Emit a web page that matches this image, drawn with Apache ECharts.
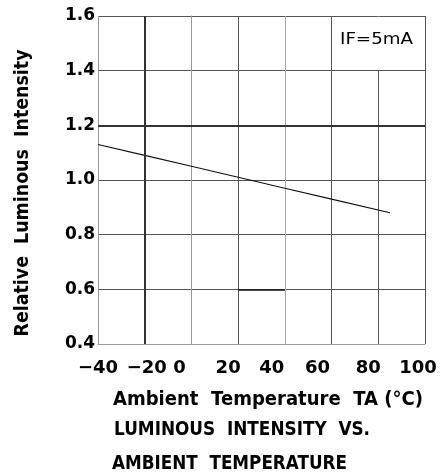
<!DOCTYPE html>
<html>
<head>
<meta charset="utf-8">
<script src="https://cdn.jsdelivr.net/npm/echarts@6/dist/echarts.min.js"></script>
<style>
html,body{margin:0;padding:0;background:#fff;}
#chart{width:440px;height:476px;}
</style>
</head>
<body>
<div id="chart"></div>
<script>
// Data
var temperatures = [-40, -20, 0, 20, 40, 60, 85];
var intensity = [1.13, 1.09, 1.05, 1.01, 0.97, 0.93, 0.88];
var xTicks = [-40, -20, 0, 20, 40, 60, 80, 100];
var yTicks = [0.4, 0.6, 0.8, 1.0, 1.2, 1.4, 1.6];
var xAxisTitle = 'Ambient  Temperature  TA (°C)';
var yAxisTitle = 'Relative  Luminous  Intensity';
var titleLine1 = 'LUMINOUS  INTENSITY  VS.';
var titleLine2 = 'AMBIENT  TEMPERATURE';
var conditionLabel = 'IF=5mA';

var chart = echarts.init(document.getElementById('chart'), null, {renderer: 'canvas'});
var gridColor = '#555';
var font = 'DejaVu Sans';

// text width helper, used to stretch the titles to the printed widths
var mctx = document.createElement('canvas').getContext('2d');
function fitScale(text, cssFont, targetWidth) {
  mctx.font = cssFont;
  return targetWidth / mctx.measureText(text).width;
}

// horizontal nudges of the x tick labels as printed in the reference (style only)
var xLabelNudge = {'-40': 0, '-20': 2, '0': -12, '20': -10, '40': -13, '60': -14, '80': -10, '100': -7};
var rich = {};
xTicks.forEach(function (v, i) {
  var d = xLabelNudge[String(v)] || 0;
  rich['t' + i] = {
    fontFamily: font, fontSize: 18, fontWeight: 'bold', color: '#000',
    padding: d < 0 ? [0, -2 * d, 0, 0] : [0, 0, 0, 2 * d]
  };
});

var titleFont = 'bold 20px "DejaVu Sans"';
var condFont = '16px "DejaVu Sans"';

var option = {
  backgroundColor: '#fff',
  animation: false,
  grid: {left: 98, top: 16, right: 15, bottom: 132, containLabel: false},
  xAxis: {
    type: 'value', min: -40, max: 100, interval: 20,
    axisLine: {show: true, lineStyle: {color: '#999', width: 1}},
    axisTick: {show: false},
    axisLabel: {
      margin: 15, color: '#000', fontFamily: font, fontSize: 18, fontWeight: 'bold',
      rich: rich,
      formatter: function (v) {
        var i = xTicks.indexOf(v);
        return '{t' + i + '|' + String(v).replace('-', '−') + '}';
      }
    },
    splitLine: {show: true, lineStyle: {color: ['#999', gridColor, gridColor, gridColor, '#aaa', gridColor, gridColor, gridColor], width: 1}}
  },
  yAxis: {
    type: 'value', min: 0.4, max: 1.6, interval: 0.2,
    axisLine: {show: true, lineStyle: {color: '#999', width: 1}},
    axisTick: {show: false},
    axisLabel: {
      margin: 3, color: '#000', fontFamily: font, fontSize: 17, fontWeight: 'bold',
      formatter: function (v) { return v.toFixed(1); }
    },
    splitLine: {show: true, lineStyle: {color: gridColor, width: 1}}
  },
  series: [{
    type: 'line',
    data: temperatures.map(function (t, i) { return [t, intensity[i]]; }),
    symbol: 'none',
    lineStyle: {color: '#111', width: 1.1},
    markLine: {
      silent: true, symbol: 'none', label: {show: false},
      lineStyle: {color: '#333', width: 2, type: 'solid'},
      data: [
        {yAxis: 1.2},
        {xAxis: -20},
        [{coord: [20, 0.6], lineStyle: {color: '#111', width: 1.5}}, {coord: [40, 0.6]}]
      ]
    },
    markArea: {
      silent: true,
      itemStyle: {color: '#fff'},
      data: [[{coord: [79.3, 1.403]}, {coord: [80.7, 1.597]}]]
    }
  }],
  graphic: [
    {type: 'text', z: 100, x: 340, y: 40, scaleX: fitScale(conditionLabel, condFont, 73), style: {text: conditionLabel, font: condFont, fill: '#000', textVerticalAlign: 'middle'}},
    {type: 'text', z: 100, x: 23, y: 193, rotation: Math.PI / 2, scaleX: fitScale(yAxisTitle, titleFont, 287), style: {text: yAxisTitle, font: titleFont, fill: '#000', textAlign: 'center', textVerticalAlign: 'middle'}},
    {type: 'text', z: 100, x: 113, y: 400, scaleX: fitScale(xAxisTitle, titleFont, 310), style: {text: xAxisTitle, font: titleFont, fill: '#000', textVerticalAlign: 'middle'}},
    {type: 'text', z: 100, x: 114, y: 430, scaleX: fitScale(titleLine1, titleFont, 256), style: {text: titleLine1, font: titleFont, fill: '#000', textVerticalAlign: 'middle'}},
    {type: 'text', z: 100, x: 112, y: 464, scaleX: fitScale(titleLine2, titleFont, 235), style: {text: titleLine2, font: titleFont, fill: '#000', textVerticalAlign: 'middle'}}
  ]
};
chart.setOption(option);
</script>
</body>
</html>
